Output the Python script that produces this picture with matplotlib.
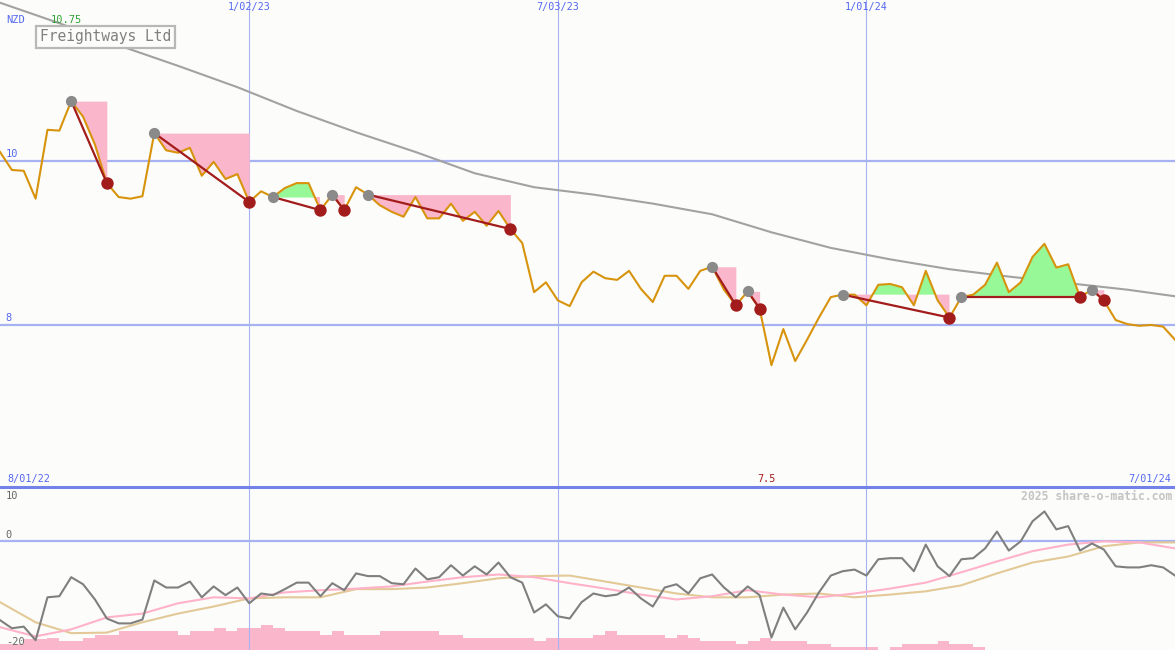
import numpy as np
import pandas as pd
import matplotlib
matplotlib.use('Agg')
import matplotlib.pyplot as plt
import matplotlib.dates as mdates
import matplotlib.transforms as mtransforms

# ============================================
# 数据（周线）
# ============================================
start_date = '2022-08-08'
n_weeks = 100

price = [10.11, 9.89, 9.88, 9.54, 10.38, 10.37, 10.73, 10.54, 10.20, 9.73,
         9.56, 9.54, 9.57, 10.34, 10.13, 10.10, 10.16, 9.82, 9.99, 9.78,
         9.84, 9.50, 9.63, 9.56, 9.67, 9.73, 9.73, 9.40, 9.59, 9.40,
         9.68, 9.59, 9.46, 9.38, 9.32, 9.56, 9.30, 9.30, 9.48, 9.27,
         9.38, 9.21, 9.39, 9.17, 9.00, 8.40, 8.52, 8.30, 8.23, 8.52,
         8.65, 8.57, 8.55, 8.66, 8.44, 8.28, 8.60, 8.60, 8.44, 8.66,
         8.71, 8.43, 8.24, 8.41, 8.20, 7.51, 7.95, 7.56, 7.82, 8.09,
         8.34, 8.37, 8.37, 8.24, 8.49, 8.50, 8.46, 8.24, 8.66, 8.30,
         8.09, 8.34, 8.37, 8.49, 8.76, 8.40, 8.52, 8.83, 8.99, 8.70,
         8.74, 8.34, 8.43, 8.30, 8.06, 8.01, 7.99, 8.00, 7.98, 7.82]

# 长期均线（每5周读一个点）
ma_weeks = [0, 5, 10, 15, 20, 25, 30, 35, 40, 45, 50, 55, 60, 65, 70, 75, 80, 85, 90, 95, 99]
ma_price = [11.93, 11.68, 11.41, 11.16, 10.90, 10.61, 10.35, 10.11, 9.85, 9.68, 9.59,
            9.48, 9.35, 9.13, 8.94, 8.80, 8.68, 8.59, 8.51, 8.43, 8.35]

# 高点 -> 低点（周序号）
peaks = [6, 13, 23, 28, 31, 60, 63, 71, 81, 92]
troughs = [9, 21, 27, 29, 43, 62, 64, 80, 91, 93]

# 下方指标
osc = [-14.5, -16.0, -15.7, -18.2, -10.3, -10.1, -6.6, -7.9, -10.7, -14.2,
       -15.1, -15.1, -14.4, -7.2, -8.5, -8.5, -7.4, -10.3, -8.3, -9.9,
       -8.5, -11.4, -9.6, -9.9, -8.8, -7.6, -7.6, -10.1, -7.7, -9.0,
       -5.9, -6.4, -6.4, -7.7, -7.9, -5.0, -7.0, -6.6, -4.4, -6.3,
       -4.6, -6.1, -3.9, -6.6, -7.6, -13.1, -11.6, -13.8, -14.2, -11.2,
       -9.6, -10.1, -9.8, -8.5, -10.5, -12.0, -8.5, -7.9, -9.6, -6.8,
       -6.1, -8.5, -10.3, -8.3, -9.9, -17.7, -12.2, -16.2, -13.1, -9.4,
       -6.3, -5.5, -5.2, -6.3, -3.3, -3.1, -3.1, -5.5, -0.6, -4.6,
       -6.4, -3.3, -3.1, -1.3, 1.8, -1.7, 0.0, 3.7, 5.5, 2.2,
       2.8, -1.7, -0.4, -1.5, -4.6, -4.8, -4.8, -4.4, -4.8, -6.3]

osc_weeks = list(range(0, 100, 3))
osc_pink = [-15.8, -17.5, -16.2, -14.0, -13.3, -11.4, -10.3, -10.5, -9.4, -9.0,
            -8.7, -8.3, -7.4, -6.6, -6.1, -6.6, -7.7, -8.7, -9.8, -10.7,
            -10.1, -9.0, -9.8, -10.3, -9.6, -8.7, -7.6, -5.7, -3.7, -1.8,
            -0.6, 0.0, -0.2, -1.3]
osc_tan = [-11.2, -14.9, -16.9, -16.8, -14.9, -13.3, -12.0, -10.5, -10.3, -10.3,
           -8.8, -8.8, -8.5, -7.7, -6.8, -6.4, -6.3, -7.4, -8.5, -9.6,
           -10.3, -10.3, -9.8, -9.6, -10.3, -9.8, -9.2, -8.1, -5.9, -3.9,
           -2.8, -0.9, -0.2, -0.2]

volume = [6, 6, 11, 11, 12, 9, 9, 12, 15, 15,
          19, 19, 19, 19, 19, 15, 19, 19, 22, 19,
          22, 22, 25, 22, 19, 19, 19, 15, 19, 15,
          15, 15, 19, 19, 19, 19, 19, 15, 15, 12,
          12, 12, 12, 12, 12, 9, 12, 12, 12, 12,
          15, 19, 15, 15, 15, 15, 12, 15, 12, 9,
          9, 9, 6, 9, 12, 9, 9, 9, 6, 6,
          3, 3, 3, 3, 0, 3, 6, 6, 6, 9,
          6, 6, 3, 0, 0, 0, 0, 0, 0, 0,
          0, 0, 0, 0, 0, 0, 0, 0, 0]

date_lines = ['2023-01-02', '2023-07-03', '2024-01-01']
date_labels = ['1/02/23', '7/03/23', '1/01/24']
range_labels = ['8/01/22', '7/01/24']
price_ticks = [10, 8]
osc_ticks = [10, 0, -20]
hi_label, lo_label = '10.75', '7.5'

# ============================================
# 样式
# ============================================
BG = '#fcfdfb'
GRID = '#a6b2f2'
ORANGE = '#d8930c'
PINK = '#fab6ca'
GREEN = '#96f896'
DARKRED = '#a31c1c'
MONO = 'DejaVu Sans Mono'
W, H = 1175, 650

x = mdates.date2num(pd.date_range(start_date, periods=n_weeks, freq='7D'))
p = np.array(price)
vlines = mdates.date2num(pd.to_datetime(date_lines))

fig = plt.figure(figsize=(W / 100, H / 100), dpi=100, facecolor=BG)
ax = fig.add_axes([0, 163 / H, 1, 487 / H])
ax_vol = fig.add_axes([0, 0, 1, 163 / H])
ax2 = fig.add_axes([0, 0, 1, 163 / H])

# ---------- 价格图 ----------
ax.set_xlim(x[0], x[-1])
ax.set_ylim(6.024, 11.963)
ax.axis('off')
ax.set_facecolor(BG)

for v in vlines:
    ax.axvline(v, color=GRID, lw=0.8, zorder=1)
for t in price_ticks:
    ax.axhline(t, color=GRID, lw=1.6, zorder=1)

ax.plot(x[ma_weeks], ma_price, color='#a2a2a2', lw=1.5, zorder=2)

for pk, tr in zip(peaks, troughs):
    seg_x = x[pk:tr + 1]
    seg_p = p[pk:tr + 1]
    level = p[pk]
    ax.fill_between(seg_x, level, seg_p, where=seg_p <= level, interpolate=True,
                    color=PINK, lw=0, zorder=2)
    ax.fill_between(seg_x, level, seg_p, where=seg_p >= level, interpolate=True,
                    color=GREEN, lw=0, zorder=2)

ax.plot(x, p, color=ORANGE, lw=1.5, zorder=3)

for pk, tr in zip(peaks, troughs):
    ax.plot([x[pk], x[tr]], [p[pk], p[tr]], color=DARKRED, lw=1.6, zorder=4)

ax.scatter(x[peaks], p[peaks], s=65, color='#8a8a8a', lw=0, zorder=5)
ax.scatter(x[troughs], p[troughs], s=80, color=DARKRED, lw=0, zorder=5)

# 轴标签
ytrans = mtransforms.blended_transform_factory(ax.transAxes, ax.transData)
for t in price_ticks:
    ax.text(0.005, t + 0.02, str(t), transform=ytrans, color='#5568f0',
            fontsize=7.5, family=MONO, va='bottom', ha='left')

xtrans = mtransforms.blended_transform_factory(ax.transData, ax.transAxes)
for v, lab in zip(vlines, date_labels):
    ax.text(v, 0.995, lab, transform=xtrans, color='#5568f0', fontsize=7.3,
            family=MONO, ha='center', va='top')

ax.text(0.006, 0.006, range_labels[0], transform=ax.transAxes, color='#5568f0',
        fontsize=7.3, family=MONO, ha='left', va='bottom')
ax.text(0.997, 0.006, range_labels[1], transform=ax.transAxes, color='#5568f0',
        fontsize=7.3, family=MONO, ha='right', va='bottom')
ax.text(x[int(np.argmin(p))] - 3, 0.006, lo_label, transform=xtrans, color=DARKRED,
        fontsize=7.3, family=MONO, ha='center', va='bottom')

fig.text(6 / W, 1 - 20 / H, 'NZD', color='#5568f0', fontsize=7.5, family=MONO,
         ha='left', va='center')
fig.text(66 / W, 1 - 20 / H, hi_label, color='#33a033', fontsize=7.5, family=MONO,
         ha='center', va='center')
fig.text(40 / W, 1 - 37 / H, 'Freightways Ltd', color='#808080', fontsize=10.5,
         family=MONO, ha='left', va='center',
         bbox=dict(boxstyle='square,pad=0.25', facecolor=BG, edgecolor='#b8b8b8', lw=1.6))

# ---------- 下方指标 ----------
ax_vol.set_xlim(x[0], x[-1])
ax_vol.set_ylim(0, 163)
ax_vol.axis('off')
ax_vol.bar(x[:len(volume)], volume, width=7, align='edge', color=PINK, lw=0)

ax2.set_xlim(x[0], x[-1])
ax2.set_ylim(-20, 10)
ax2.axis('off')
ax2.patch.set_visible(False)

for v in vlines:
    ax2.axvline(v, color=GRID, lw=0.8, zorder=1)
ax2.axhline(0, color=GRID, lw=1.6, zorder=1)
ax2.axhline(10, color='#7282e8', lw=2.2, zorder=6, clip_on=False)

ax2.plot(x[osc_weeks], osc_tan, color='#e3c997', lw=1.5, zorder=2)
ax2.plot(x[osc_weeks], osc_pink, color='#ffb2c8', lw=1.5, zorder=3)
ax2.plot(x, osc, color='#7f7f7f', lw=1.5, zorder=4)

otrans = mtransforms.blended_transform_factory(ax2.transAxes, ax2.transData)
ax2.text(0.005, 8.3, str(osc_ticks[0]), transform=otrans, color='#666666',
         fontsize=7.5, family=MONO, va='center', ha='left')
ax2.text(0.005, 1.1, str(osc_ticks[1]), transform=otrans, color='#666666',
         fontsize=7.5, family=MONO, va='center', ha='left')
ax2.text(0.005, -18.6, str(osc_ticks[2]), transform=otrans, color='#666666',
         fontsize=7.5, family=MONO, va='center', ha='left')

fig.text(1172 / W, 1 - 496 / H, '2025 share-o-matic.com', color='#c4c4c4',
         fontsize=8.3, family=MONO, weight='bold', ha='right', va='center')

plt.savefig('out.png', dpi=100, facecolor=BG)
